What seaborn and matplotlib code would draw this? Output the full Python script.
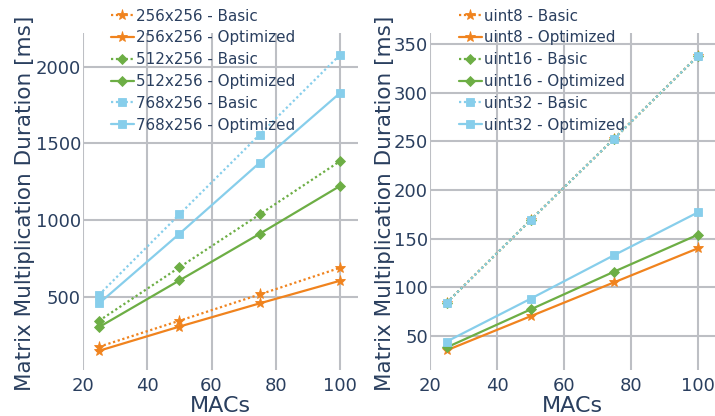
import matplotlib
matplotlib.use("Agg")
import matplotlib.pyplot as plt
import seaborn as sns
import pandas as pd

# ---------------- data ----------------
macs = [25, 50, 75, 100]

# left panel (matrix sizes)
size_labels = ["256x256", "512x256", "768x256"]
s256_basic = [179, 348, 519, 692]
s256_opt = [153, 310, 461, 608]
s512_basic = [348, 695, 1039, 1385]
s512_opt = [307, 610, 913, 1224]
s768_basic = [517, 1039, 1558, 2076]
s768_opt = [461, 913, 1375, 1828]

# right panel (data types)
type_labels = ["uint8", "uint16", "uint32"]
uint8_basic = [84, 169, 253, 338]
uint8_opt = [35, 70, 105, 140]
uint16_basic = [84, 169, 253, 338]
uint16_opt = [38, 77, 116, 154]
uint32_basic = [84, 169, 253, 338]
uint32_opt = [44, 88, 133, 177]

left_ticks = [500, 1000, 1500, 2000]
right_ticks = [50, 100, 150, 200, 250, 300, 350]
x_ticks = [20, 40, 60, 80, 100]

# ---------------- style ----------------
sns.set_theme(style="white")
plt.rcParams['font.family'] = ['DejaVu Sans']
TXT = "#2a3f5f"
GRID = "#bdbfc4"
colors = ["#f0831e", "#6dae45", "#87ceeb"]
markers = ["*", "D", "s"]
msizes = [8, 5.5, 6.3]

fig = plt.figure(figsize=(7.15, 4.16), dpi=100)
axL = fig.add_axes([83 / 715, 46 / 416, 275 / 715, 337 / 416])
axR = fig.add_axes([430 / 715, 46 / 416, 285 / 715, 337 / 416])


def draw(ax, labels, series, xlim, ylim, yticks, ylab_x):
    for i, lab in enumerate(labels):
        basic, opt = series[i]
        for variant, vals, ls in (("Basic", basic, (0, (1, 1.2))), ("Optimized", opt, "-")):
            df = pd.DataFrame({"MACs": macs, "dur": vals})
            sns.lineplot(data=df, x="MACs", y="dur", ax=ax, color=colors[i],
                         marker=markers[i], markersize=msizes[i],
                         markeredgecolor=colors[i], markeredgewidth=0.6,
                         linewidth=1.6, linestyle=ls,
                         label=f"{lab} - {variant}", zorder=3)
    ax.set_xlim(*xlim)
    ax.set_ylim(*ylim)
    ax.set_xticks(x_ticks)
    ax.set_yticks(yticks)
    ax.grid(True, color=GRID, linewidth=1.5, zorder=0)
    ax.set_axisbelow(True)
    for sp in ax.spines.values():
        sp.set_visible(False)
    ax.tick_params(axis="both", length=0, labelsize=13, colors=TXT)
    ax.tick_params(axis="y", pad=1.5)
    ax.tick_params(axis="x", pad=5)
    ax.set_xlabel("MACs", fontsize=16, color=TXT)
    ax.set_ylabel("Matrix Multiplication Duration [ms]", fontsize=15.5, color=TXT)
    ax.xaxis.set_label_coords(0.5, -0.077)
    ax.yaxis.set_label_coords(ylab_x, 0.496)
    return ax


draw(axL, size_labels,
     [(s256_basic, s256_opt), (s512_basic, s512_opt), (s768_basic, s768_opt)],
     (20, 105.6), (28, 2218), left_ticks, -0.175)
draw(axR, type_labels,
     [(uint8_basic, uint8_opt), (uint16_basic, uint16_opt), (uint32_basic, uint32_opt)],
     (20, 105.07), (14.7, 361.6), right_ticks, -0.123)

for ax, lx in ((axL, (111 - 83) / 275), (axR, (459 - 430) / 285)):
    leg = ax.legend(loc="upper left", bbox_to_anchor=(lx, (370 - 8.5) / 337),
                    frameon=False, fontsize=10.9, handlelength=1.5,
                    handletextpad=0.15, labelspacing=0.45, borderpad=0,
                    borderaxespad=0)
    for t in leg.get_texts():
        t.set_color(TXT)
    leg.set_zorder(5)

fig.savefig("out.png", dpi=100)
